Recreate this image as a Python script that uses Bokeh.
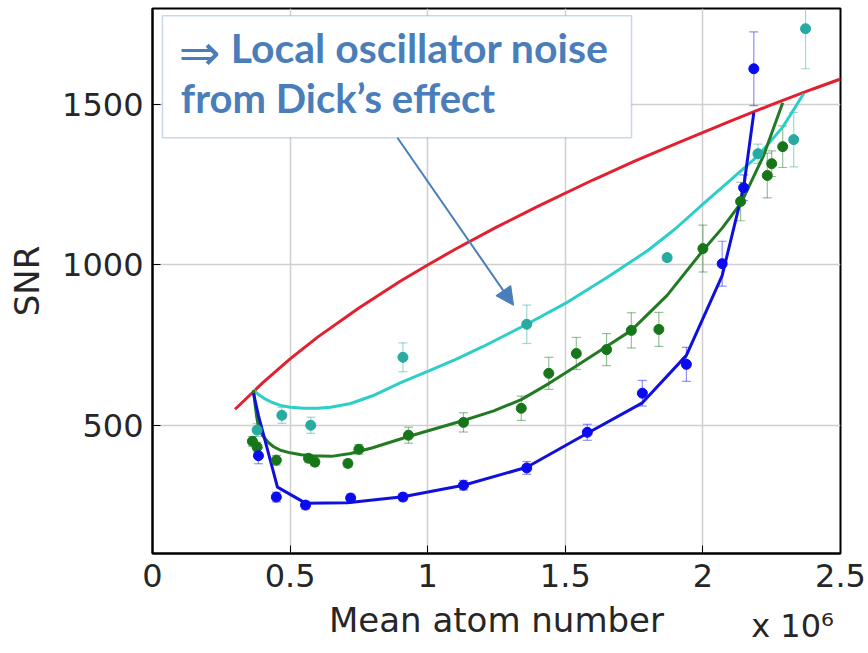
from bokeh.plotting import figure
from bokeh.models import (Range1d, FixedTicker, ColumnDataSource, Whisker, LinearAxis,
                          TeeHead, BoxAnnotation, Label, Arrow, NormalHead)
from bokeh.embed import file_html
from bokeh.resources import INLINE

# ---------------- data (x in units of 10^6 atoms) ----------------
red_x = [0.3, 0.4, 0.5, 0.6, 0.75, 0.9, 1.0, 1.1, 1.25, 1.4, 1.6, 1.75, 1.9, 2.1, 2.25, 2.4, 2.5]
red_y = [550, 632, 707, 775, 866, 949, 1000, 1049, 1118, 1183, 1265, 1323, 1378, 1449, 1500, 1549, 1580]

cyan_fit_x = [0.367, 0.385, 0.405, 0.435, 0.465, 0.5, 0.55, 0.6, 0.647, 0.72, 0.8, 0.9, 1.0, 1.1, 1.2, 1.36, 1.5, 1.65, 1.8, 1.9, 2.0, 2.1, 2.2, 2.29, 2.366]
cyan_fit_y = [610, 596, 584, 571, 562, 556, 553, 553, 556, 568, 592, 632, 668, 705, 745, 815, 880, 960, 1045, 1113, 1190, 1265, 1340, 1430, 1534]

green_fit_x = [0.367, 0.372, 0.378, 0.385, 0.40, 0.42, 0.44, 0.465, 0.5, 0.54, 0.58, 0.65, 0.72, 0.8, 0.93, 1.03, 1.13, 1.24, 1.34, 1.44, 1.54, 1.64, 1.74, 1.87, 2.0, 2.07, 2.14, 2.22, 2.29]
green_fit_y = [610, 570, 530, 495, 468, 447, 433, 422, 414, 408, 405, 403, 412, 430, 465, 490, 515, 545, 580, 630, 685, 740, 796, 905, 1045, 1115, 1195, 1340, 1506]

blue_fit_x = [0.367, 0.385, 0.454, 0.556, 0.708, 0.91, 1.13, 1.36, 1.58, 1.78, 1.94, 2.07, 2.148, 2.185]
blue_fit_y = [600, 530, 307, 257, 258, 277, 313, 369, 475, 570, 718, 967, 1241, 1475]

blue_x = [0.385, 0.45, 0.556, 0.72, 0.91, 1.13, 1.36, 1.58, 1.78, 1.94, 2.07, 2.148, 2.185]
blue_y = [405, 276, 251, 273, 276, 313, 367, 478, 600, 690, 1004, 1241, 1612]
blue_err = [25, 15, 12, 12, 12, 15, 20, 25, 40, 53, 70, 40, 115]

green_x = [0.363, 0.38, 0.45, 0.567, 0.59, 0.71, 0.75, 0.93, 1.13, 1.34, 1.44, 1.54, 1.65, 1.74, 1.84, 2.0, 2.137, 2.234, 2.25, 2.29]
green_y = [450, 432, 391, 397, 385, 381, 425, 469, 509, 553, 662, 724, 736, 796, 799, 1051, 1198, 1279, 1316, 1369]
green_err = [15, 15, 15, 12, 12, 12, 15, 25, 30, 38, 50, 50, 50, 55, 53, 73, 60, 70, 40, 65]

cyan_x = [0.38, 0.47, 0.575, 0.91, 1.36, 1.87, 2.2, 2.33, 2.373]
cyan_y = [485, 531, 500, 712, 815, 1023, 1347, 1391, 1737]
cyan_err = [20, 25, 25, 45, 60, 10, 30, 85, 125]

x_ticks = [0, 0.5, 1, 1.5, 2, 2.5]
x_tick_labels = ["0", "0.5", "1", "1.5", "2", "2.5"]
y_ticks = [500, 1000, 1500]
y_tick_labels = ["500", "1000", "1500"]
x_scale_text = "x 10\u2076"
x_scale_pos = 2.3256   # where the exponent note is centred along x

# ---------------- colours ----------------
RED = "#e3202f"
CYAN_LINE = "#2ccfc8"
CYAN_PT = "#27aaa2"
GREEN_LINE = "#227a22"
GREEN_PT = "#17761a"
BLUE_LINE = "#1010dd"
BLUE_PT = "#0b0bf0"
ANN = "#4a7ebb"
TXT = "#262626"

p = figure(width=868, height=653, output_backend="svg", toolbar_location=None,
           x_range=Range1d(0, 2.5), y_range=Range1d(100, 1800),
           min_border_left=152, min_border_right=28, min_border_top=8, min_border_bottom=100)
p.background_fill_color = "white"
p.border_fill_color = "white"
p.outline_line_color = "black"
p.outline_line_width = 2

for ax in (p.xaxis[0], p.yaxis[0]):
    ax.axis_line_color = "black"
    ax.axis_line_width = 2
    ax.major_tick_in = 8
    ax.major_tick_out = 0
    ax.major_tick_line_color = "black"
    ax.minor_tick_line_color = None
    ax.major_label_text_font = "DejaVu Sans"
    ax.major_label_text_font_size = "32px"
    ax.major_label_text_color = TXT
    ax.axis_label_text_font = "DejaVu Sans"
    ax.axis_label_text_font_size = "34px"
    ax.axis_label_text_font_style = "normal"
    ax.axis_label_text_color = TXT

p.xaxis[0].ticker = FixedTicker(ticks=x_ticks)
p.xaxis[0].major_label_overrides = {t: l for t, l in zip(x_ticks, x_tick_labels)}
p.xaxis[0].axis_label = "Mean atom number"
p.xaxis[0].major_label_standoff = 10
p.xaxis[0].axis_label_standoff = 10

p.yaxis[0].ticker = FixedTicker(ticks=y_ticks)
p.yaxis[0].major_label_overrides = {t: l for t, l in zip(y_ticks, y_tick_labels)}
p.yaxis[0].axis_label = "SNR"
p.yaxis[0].major_label_standoff = 9
p.yaxis[0].axis_label_standoff = 12

# extra axis below, carrying only the "x 10^6" note (overlapping upward)
note_ax = LinearAxis(ticker=FixedTicker(ticks=[x_scale_pos]),
                     major_label_overrides={x_scale_pos: x_scale_text},
                     axis_line_color=None, major_tick_line_color=None, minor_tick_line_color=None,
                     major_tick_in=0, major_tick_out=0,
                     major_label_standoff=-36,
                     major_label_text_font="DejaVu Sans", major_label_text_font_size="32px",
                     major_label_text_color=TXT)
p.add_layout(note_ax, "below")

p.xgrid[0].ticker = FixedTicker(ticks=x_ticks)
p.ygrid.ticker = FixedTicker(ticks=y_ticks)
p.xgrid.grid_line_color = "#cfcfcf"
p.ygrid.grid_line_color = "#cfcfcf"
p.xgrid.grid_line_width = 1.5
p.ygrid.grid_line_width = 1.5

# ---------------- error bars & points ----------------
def series(xs, ys, errs, pt_color):
    src = ColumnDataSource(dict(x=xs, y=ys,
                                lo=[y - e for y, e in zip(ys, errs)],
                                hi=[y + e for y, e in zip(ys, errs)]))
    w = Whisker(base="x", lower="lo", upper="hi", source=src,
                line_color=pt_color, line_alpha=0.45, line_width=1.2,
                upper_head=TeeHead(size=9, line_color=pt_color, line_alpha=0.45, line_width=1.2),
                lower_head=TeeHead(size=9, line_color=pt_color, line_alpha=0.45, line_width=1.2))
    p.add_layout(w)
    p.scatter("x", "y", source=src, size=10, fill_color=pt_color, line_color=pt_color)

# lines
p.line(red_x, red_y, line_color=RED, line_width=3)
p.line(cyan_fit_x, cyan_fit_y, line_color=CYAN_LINE, line_width=3)
p.line(green_fit_x, green_fit_y, line_color=GREEN_LINE, line_width=3)
p.line(blue_fit_x, blue_fit_y, line_color=BLUE_LINE, line_width=3)

series(cyan_x, cyan_y, cyan_err, CYAN_PT)
series(green_x, green_y, green_err, GREEN_PT)
series(blue_x, blue_y, blue_err, BLUE_PT)

# ---------------- annotation ----------------
box = BoxAnnotation(left=0.0363, right=1.7406, bottom=1397, top=1777,
                    fill_color="white", fill_alpha=1.0, line_color=ANN, line_width=1.5)
p.add_layout(box)
p.add_layout(Label(x=0.095, y=1660, text="\u21d2",
                   text_font="'DejaVu Sans ExtraLight', 'DejaVu Sans'",
                   text_font_size="50px", text_color=ANN, text_baseline="alphabetic"))
p.add_layout(Label(x=0.284, y=1678, text="Local oscillator noise", text_font="Lato",
                   text_font_size="41px", text_font_style="bold", text_color=ANN,
                   text_baseline="alphabetic"))
p.add_layout(Label(x=0.103, y=1520, text="from Dick\u2019s effect", text_font="Lato",
                   text_font_size="40px", text_font_style="bold", text_color=ANN,
                   text_baseline="alphabetic"))
p.add_layout(Arrow(x_start=0.890, y_start=1397, x_end=1.312, y_end=874,
                   line_color=ANN, line_width=2,
                   end=NormalHead(size=18, fill_color=ANN, line_color=ANN)))

open("out.html", "w").write(file_html(p, INLINE))
